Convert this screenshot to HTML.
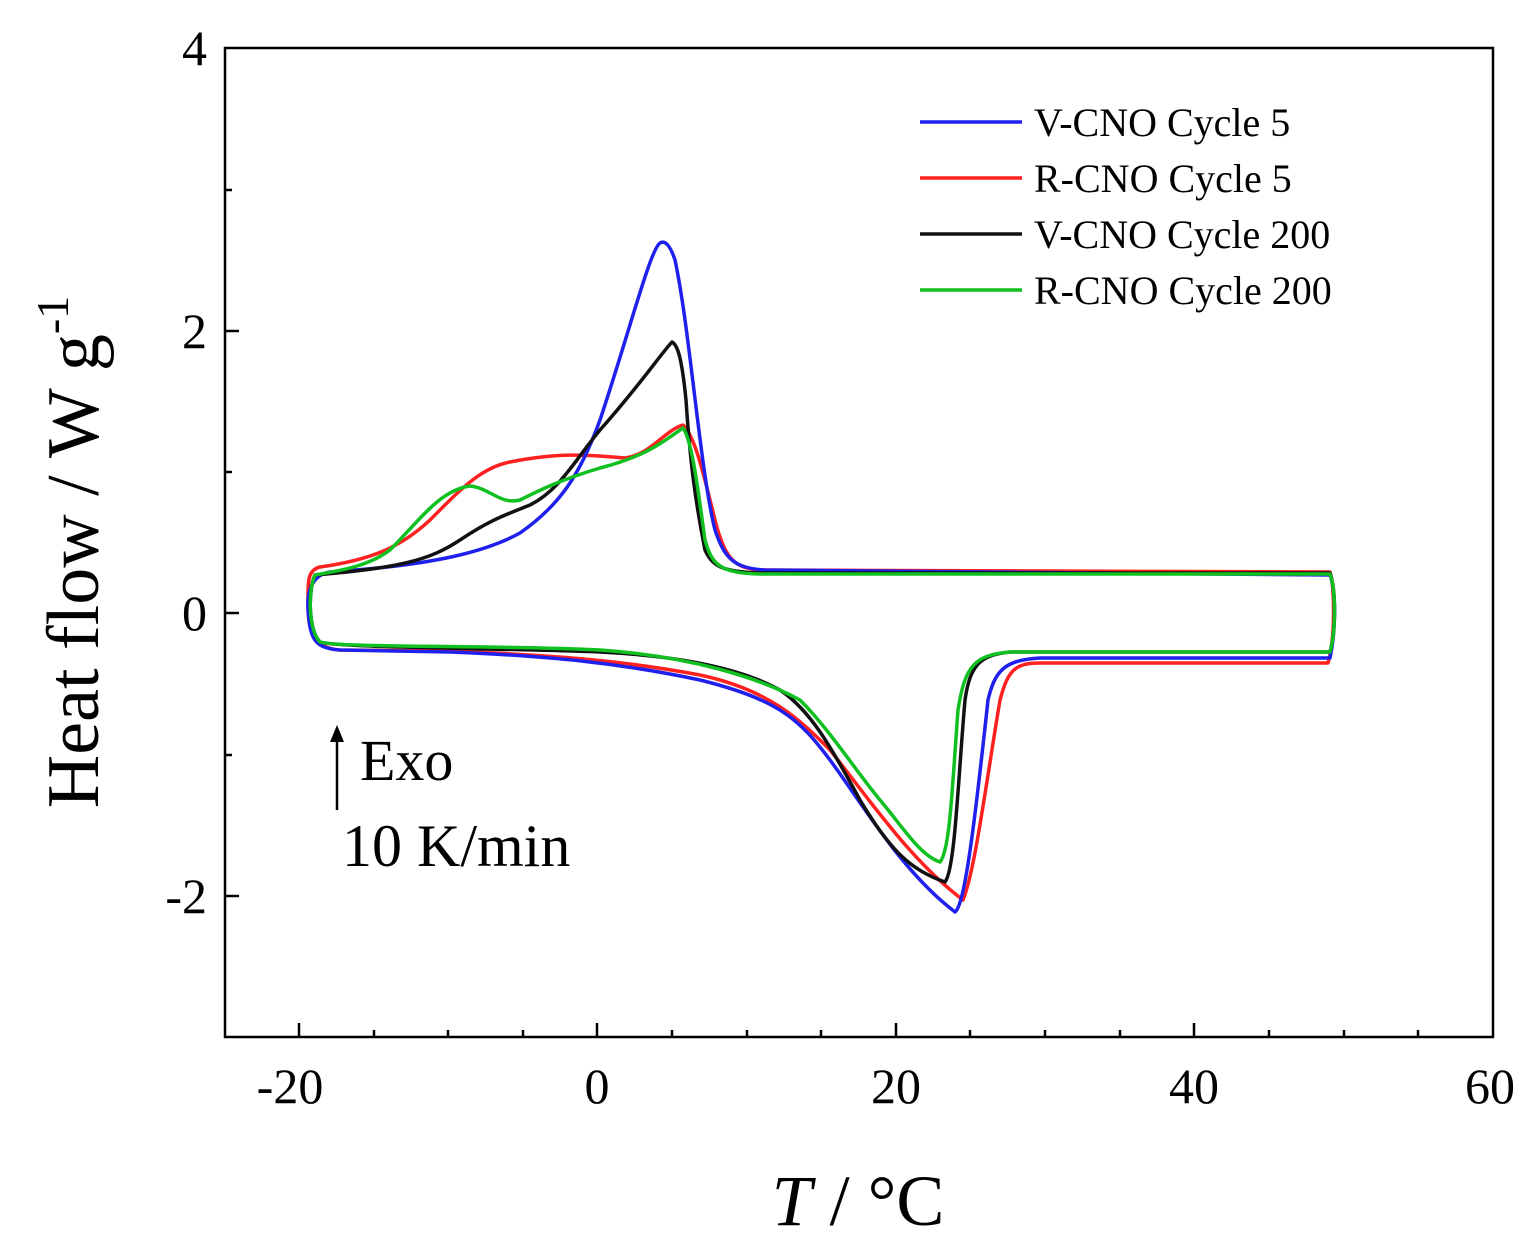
<!DOCTYPE html>
<html><head><style>body{margin:0;background:#fff}svg{display:block}</style></head><body>
<svg width="1536" height="1249" viewBox="0 0 1536 1249" xmlns="http://www.w3.org/2000/svg" font-family="'Liberation Serif',serif">
<rect x="225" y="48" width="1268" height="989" fill="none" stroke="#000" stroke-width="2.5"/>
<g stroke="#000" stroke-width="2.5">
<line x1="299" y1="1037" x2="299" y2="1023"/><line x1="597" y1="1037" x2="597" y2="1023"/><line x1="896" y1="1037" x2="896" y2="1023"/><line x1="1194" y1="1037" x2="1194" y2="1023"/>
<line x1="374" y1="1037" x2="374" y2="1030"/><line x1="448" y1="1037" x2="448" y2="1030"/><line x1="523" y1="1037" x2="523" y2="1030"/><line x1="672" y1="1037" x2="672" y2="1030"/><line x1="747" y1="1037" x2="747" y2="1030"/><line x1="821" y1="1037" x2="821" y2="1030"/><line x1="970" y1="1037" x2="970" y2="1030"/><line x1="1045" y1="1037" x2="1045" y2="1030"/><line x1="1120" y1="1037" x2="1120" y2="1030"/><line x1="1269" y1="1037" x2="1269" y2="1030"/><line x1="1344" y1="1037" x2="1344" y2="1030"/><line x1="1418" y1="1037" x2="1418" y2="1030"/>
<line x1="225" y1="331" x2="239" y2="331"/><line x1="225" y1="613" x2="239" y2="613"/><line x1="225" y1="896" x2="239" y2="896"/>
<line x1="225" y1="190" x2="232" y2="190"/><line x1="225" y1="472" x2="232" y2="472"/><line x1="225" y1="755" x2="232" y2="755"/>
</g>
<g font-size="50" text-anchor="middle">
<text x="290" y="1103">-20</text><text x="597" y="1103">0</text><text x="896" y="1103">20</text><text x="1194" y="1103">40</text><text x="1490" y="1103">60</text>
</g>
<g font-size="50" text-anchor="end">
<text x="207" y="65">4</text><text x="207" y="348">2</text><text x="207" y="630">0</text><text x="207" y="913">-2</text>
</g>
<text x="858" y="1225" font-size="72" text-anchor="middle"><tspan font-style="italic">T</tspan> / °C</text>
<text transform="translate(98,552) rotate(-90)" font-size="74" text-anchor="middle">Heat flow / W g<tspan dy="-30" font-size="46">-1</tspan></text>
<g stroke="#000" stroke-width="2.5"><line x1="337" y1="810" x2="337" y2="735"/></g>
<polygon points="337,725 330,742 344,742" fill="#000"/>
<text x="360" y="780" font-size="58">Exo</text>
<text x="342" y="866" font-size="60">10 K/min</text>
<g fill="none" stroke-width="3.5" stroke-linejoin="round">
<path stroke="#ff2020" d="M1330,572 L760,570 C735,568 725,560 715,520 C705,480 695,435 683,425 C665,430 650,455 625,458 C590,455 560,452 510,462 C480,468 460,490 430,520 C400,548 370,560 320,567 C308,570 308,580 308,600 C308,630 312,648 340,650 L450,651 C550,655 620,660 700,675 C770,690 800,720 830,750 C870,800 910,860 963,900 C975,870 985,790 1000,700 C1008,670 1015,663 1040,663 L1328,663 C1335,640 1335,590 1330,572 Z"/>
<path stroke="#2020ee" d="M1330,575 L765,570 C735,568 725,560 715,530 C700,470 690,330 675,260 C670,245 665,240 660,243 C650,250 630,330 600,420 C580,475 560,505 520,533 C480,555 420,566 330,572 C310,575 307,595 308,610 C310,640 315,648 340,650 L450,652 C550,656 620,663 700,680 C780,700 800,720 830,760 C860,800 900,870 955,912 C965,905 975,820 988,700 C995,670 1005,660 1040,658 L1330,658 C1336,630 1336,590 1330,575 Z"/>
<path stroke="#111" d="M1330,573 L760,573 C720,572 712,565 705,550 C695,500 690,460 686,400 C682,360 678,345 672,342 C660,355 640,385 600,430 C575,460 560,490 530,505 C505,515 490,520 460,540 C430,560 400,568 315,575 C308,590 308,630 320,642 C340,648 500,648 600,652 C680,656 740,668 780,690 C810,710 830,745 860,800 C890,850 910,870 945,882 C955,870 958,780 965,700 C970,665 980,655 1010,652 L1330,652 C1336,630 1336,590 1330,573 Z"/>
<path stroke="#10c020" d="M1330,574 L760,574 C720,573 712,565 705,540 C698,490 692,440 683,428 C665,440 650,455 600,468 C560,480 540,490 520,500 C500,505 490,488 470,486 C440,490 420,520 390,550 C370,565 345,570 315,575 C308,590 308,630 320,642 C340,648 500,645 600,650 C690,656 760,678 800,700 C830,730 855,770 880,800 C905,830 920,855 940,862 C950,850 952,790 958,710 C965,665 975,655 1010,652 L1330,652 C1336,630 1336,590 1330,574 Z"/>
</g>
<g stroke-width="3.5">
<line x1="920" y1="122" x2="1022" y2="122" stroke="#2020ee"/>
<line x1="920" y1="178" x2="1022" y2="178" stroke="#ff2020"/>
<line x1="920" y1="234" x2="1022" y2="234" stroke="#111"/>
<line x1="920" y1="290" x2="1022" y2="290" stroke="#10c020"/>
</g>
<g font-size="40">
<text x="1034" y="136">V-CNO Cycle 5</text>
<text x="1034" y="192">R-CNO Cycle 5</text>
<text x="1034" y="248">V-CNO Cycle 200</text>
<text x="1034" y="304">R-CNO Cycle 200</text>
</g>
</svg>
</body></html>
